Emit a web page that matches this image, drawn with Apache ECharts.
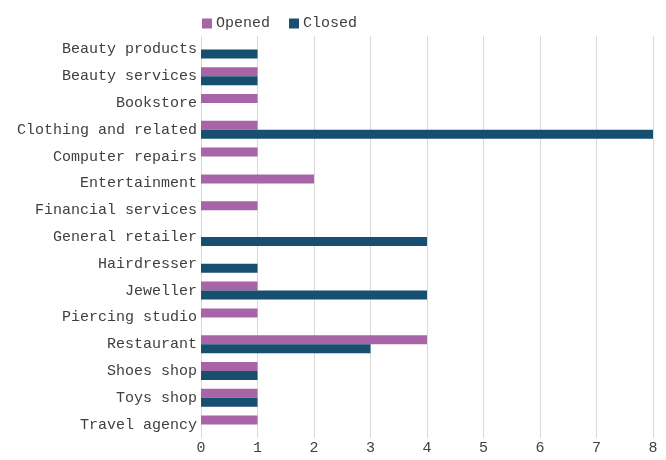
<!DOCTYPE html>
<html><head><meta charset="utf-8">
<script src="https://cdn.jsdelivr.net/npm/echarts@6/dist/echarts.min.js"></script>
<style>html,body{margin:0;padding:0;background:#fff}#c{width:666px;height:460px}</style>
</head><body><div id="c"></div>
<script>
const categories = ["Beauty products","Beauty services","Bookstore","Clothing and related","Computer repairs","Entertainment","Financial services","General retailer","Hairdresser","Jeweller","Piercing studio","Restaurant","Shoes shop","Toys shop","Travel agency"];
const opened = [0,1,1,1,1,2,1,0,0,1,1,4,1,1,1];
const closed = [1,1,0,8,0,0,0,4,1,4,0,3,1,1,0];
const xTicks = [0,1,2,3,4,5,6,7,8];

const FONT = "Liberation Mono";
const chart = echarts.init(document.getElementById('c'), null, {renderer:'canvas'});
chart.setOption({
  animation:false,
  legend:{top:11,left:197,itemWidth:10,itemHeight:10,itemGap:19,icon:'rect',
    textStyle:{fontFamily:FONT,fontSize:15,color:'#404040',padding:[0,0,0,-1]},data:['Opened','Closed']},
  grid:{left:201,right:13,top:36,bottom:22,containLabel:false},
  xAxis:{type:'value',min:xTicks[0],max:xTicks[xTicks.length-1],interval:1,
    axisLine:{show:false},axisTick:{show:false},
    axisLabel:{fontFamily:FONT,fontSize:15,color:'#404040',margin:3},
    splitLine:{lineStyle:{color:'#d9d9d9',width:1}}},
  yAxis:{type:'category',data:categories,inverse:true,
    axisLine:{show:true,lineStyle:{color:'#d9d9d9'}},axisTick:{show:false},
    axisLabel:{fontFamily:FONT,fontSize:15,color:'#404040',margin:4,padding:[3,0,0,0]}},
  series:[
    {name:'Opened',type:'bar',data:opened,barWidth:9,barGap:'0%',itemStyle:{color:'#a764a7'}},
    {name:'Closed',type:'bar',data:closed,barWidth:9,barGap:'0%',itemStyle:{color:'#164f70'}}
  ]
});
</script></body></html>
